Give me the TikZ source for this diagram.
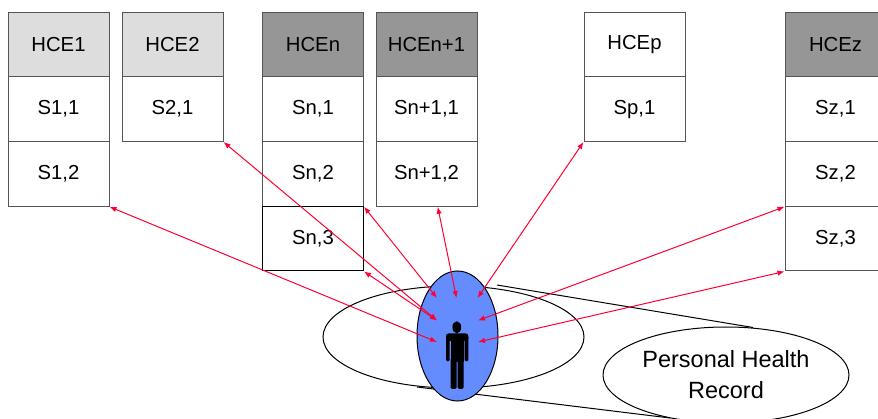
\documentclass[tikz,border=0pt]{standalone}
\usepackage{fontspec}
\setmainfont{Liberation Sans}
\usetikzlibrary{arrows.meta,calc,shapes.geometric}
\definecolor{hlight}{RGB}{221,221,221}
\definecolor{hdark}{RGB}{150,150,150}
\definecolor{pblue}{RGB}{100,140,255}
\definecolor{arred}{RGB}{255,0,51}
\definecolor{bordergray}{RGB}{85,85,85}
\begin{document}
\begin{tikzpicture}[x=1pt,y=-1pt,
  cell/.style={draw=bordergray, line width=1pt, fill=white, minimum width=101pt,
    minimum height=64.75pt, inner sep=0pt, font=\fontsize{20.3}{24}\selectfont},
  lighthead/.style={cell, fill=hlight},
  darkhead/.style={cell, fill=hdark},
  conn/.style={arred, line width=1pt,
    {Latex[length=7pt,width=5.5pt]}-{Latex[length=7pt,width=5.5pt]}},
  outline/.style={draw=black, line width=1pt}]
\useasboundingbox (0,0) rectangle (878,419);

% record ellipse and callout
\draw[outline, fill=white] (453.5,337) ellipse [x radius=130.5, y radius=51];
\coordinate (cu1) at (497,285);
\coordinate (cu2) at (753,327.5);
\coordinate (cl1) at (417,387);
\coordinate (cl2) at (670,418);
\draw[outline] (cu1) -- (cu2);
\draw[outline] (cl1) -- (cl2);
\node[outline, fill=white, ellipse, minimum width=246pt, minimum height=96pt, inner sep=0pt,
  align=center, font=\fontsize{23.5}{31}\selectfont] (phr) at (726,375)
  {Personal Health\\Record};

% patient
\node[draw=black, line width=1pt, fill=pblue, ellipse, minimum width=81pt,
  minimum height=130pt, inner sep=0pt] (pat) at (457.5,336) {};
\fill (456.8,327.3) ellipse [x radius=4.4, y radius=6];
\fill[rounded corners=2.5pt] (446,333.5) rectangle (468.3,341);
\fill[rounded corners=1.5pt] (446,336) rectangle (449.6,361.5);
\fill[rounded corners=1.5pt] (464.7,336) rectangle (468.3,361.5);
\fill (450.6,336) rectangle (463.7,362);
\fill[rounded corners=1.5pt] (450.6,358) rectangle (456.6,389);
\fill[rounded corners=1.5pt] (457.7,358) rectangle (463.7,389);

% HCE boxes
\node[lighthead] (h1) at (58.5,44.4) {HCE1};
\node[cell] (s11) at (58.5,109.1) {S1,1};
\node[cell] (s12) at (58.5,173.9) {S1,2};

\node[lighthead] (h2) at (172.5,44.4) {HCE2};
\node[cell] (s21) at (172.5,109.1) {S2,1};

\node[darkhead] (hn) at (313,44.4) {HCEn};
\node[cell] (sn1) at (313,109.1) {Sn,1};
\node[cell] (sn2) at (313,173.9) {Sn,2};
\node[cell, draw=black] (sn3) at (313,238.6) {Sn,3};

\node[darkhead] (hm) at (426.5,44.4) {HCEn+1};
\node[cell] (sm1) at (426.5,109.1) {Sn+1,1};
\node[cell] (sm2) at (426.5,173.9) {Sn+1,2};

\node[cell] (hp) at (634.5,44.4) {HCEp};
\node[cell] (sp1) at (634.5,109.1) {Sp,1};

\node[darkhead] (hz) at (835.5,44.4) {HCEz};
\node[cell] (sz1) at (835.5,109.1) {Sz,1};
\node[cell] (sz2) at (835.5,173.9) {Sz,2};
\node[cell] (sz3) at (835.5,238.6) {Sz,3};

% inner arrow ends
\coordinate (i1) at (437,342);
\coordinate (i2) at (437,320.5);
\coordinate (i3) at (437,298);
\coordinate (i4) at (456.5,298);
\coordinate (i5) at (477.5,298);
\coordinate (i6) at (478,320.5);
\coordinate (i7) at (478,342);
\coordinate (m2) at ($(sm2.south west)!0.61!(sm2.south east)$);

\draw[conn] (i1) -- (s12.south east);
\draw[conn] (i2) -- (s21.south east);
\draw[conn] (i2) -- (sn3.south east);
\draw[conn] (i3) -- (sn2.south east);
\draw[conn] (i4) -- (m2);
\draw[conn] (i5) -- (sp1.south west);
\draw[conn] (i6) -- (sz2.south west);
\draw[conn] (i7) -- (sz3.south west);
\end{tikzpicture}
\end{document}
